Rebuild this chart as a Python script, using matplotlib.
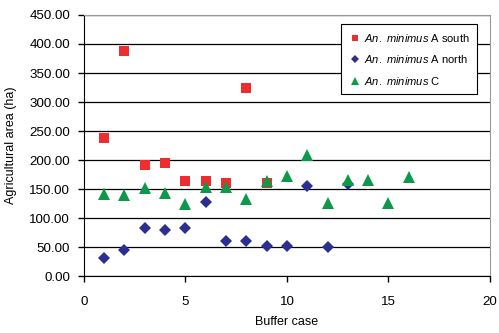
import numpy as np
import matplotlib
matplotlib.use('Agg')
import matplotlib.pyplot as plt

plt.rcParams['font.family'] = ['Liberation Sans', 'DejaVu Sans']
plt.rcParams['mathtext.fontset'] = 'custom'
plt.rcParams['mathtext.rm'] = 'Liberation Sans'
plt.rcParams['mathtext.it'] = 'Liberation Sans:italic'

# data
south_x = [1, 2, 3, 4, 5, 6, 7, 8, 9]
south_y = [238, 388, 191, 195, 163, 163, 160, 324, 160]

north_x = [1, 2, 3, 4, 5, 6, 7, 8, 9, 10, 11, 12, 13]
north_y = [31, 45, 82, 80, 82, 128, 61, 61, 51, 52, 156, 50, 158]

c_x = [1, 2, 3, 4, 5, 6, 7, 8, 9, 10, 11, 12, 13, 14, 15, 16]
c_y = [141, 140, 151, 144, 125, 154, 154, 132, 163, 172, 209, 126, 165, 165, 126, 170]

yticks = np.arange(0, 451, 50)
xticks = [0, 5, 10, 15, 20]

fig = plt.figure(figsize=(4.99, 3.33), dpi=100)
ax = fig.add_axes([0.168, 0.171, 0.814, 0.784])

ax.plot(south_x, south_y, 's', color='#ee2e2e', markersize=7, markeredgewidth=0,
        label=r'$\mathit{An.\ minimus}$ A south', zorder=3)
ax.plot(north_x, north_y, 'D', color='#2b2f8f', markersize=6, markeredgewidth=0,
        label=r'$\mathit{An.\ minimus}$ A north', zorder=3)
ax.plot(c_x, c_y, '^', color='#0c9a4a', markersize=8, markeredgewidth=0,
        label=r'$\mathit{An.\ minimus}$ C', zorder=3)

ax.set_xlim(0, 20)
ax.set_ylim(0, 450)
ax.set_xticks(xticks)
ax.set_yticks(yticks)
ax.set_yticklabels(['%.2f' % v for v in yticks])
ax.yaxis.grid(True, color='black', linewidth=0.9)
ax.set_axisbelow(True)
ax.tick_params(direction='out', length=4, width=1, labelsize=9.6, colors='black')
ax.tick_params(axis='y', pad=6)
ax.tick_params(axis='x', pad=10)
ax.spines['left'].set_color('black')
ax.spines['bottom'].set_color('black')
ax.spines['top'].set_color('#999999')
ax.spines['right'].set_color('#999999')

ax.set_xlabel('Buffer case', fontsize=9, labelpad=6)
ax.set_ylabel('Agricultural area (ha)', fontsize=9, labelpad=9)

leg = ax.legend(loc='upper right', bbox_to_anchor=(0.968, 0.966), fontsize=8,
                frameon=True, fancybox=False, edgecolor='black', framealpha=1,
                handletextpad=0.3, handlelength=1.0, borderpad=0.7, labelspacing=0.85,
                markerscale=0.7, borderaxespad=0)
leg.get_frame().set_linewidth(0.8)

fig.savefig('out.png', dpi=100)
